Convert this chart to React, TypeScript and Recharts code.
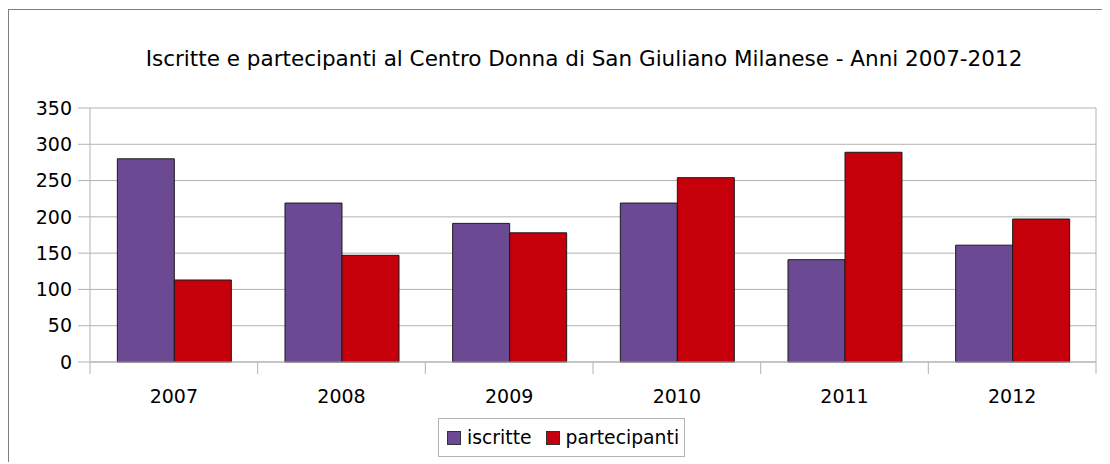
import React from 'react';
import { BarChart, Bar, XAxis, YAxis, CartesianGrid } from 'recharts';

const years = ['2007', '2008', '2009', '2010', '2011', '2012'];
const iscritte = [280, 219, 191, 219, 141, 161];
const partecipanti = [113, 147, 178, 254, 289, 197];
const yTicks = [0, 50, 100, 150, 200, 250, 300, 350];
const seriesNames = ['iscritte', 'partecipanti'];
const title = 'Iscritte e partecipanti al Centro Donna di San Giuliano Milanese - Anni 2007-2012';

const PURPLE = '#6b4a93';
const RED = '#c5000b';
const GRID = '#b3b3b3';
const FONT = '"DejaVu Sans", Verdana, sans-serif';

const data = years.map((y, i) => ({ year: y, iscritte: iscritte[i], partecipanti: partecipanti[i] }));

const CHART_W = 1102;
const CHART_H = 454;
const PLOT_LEFT = 82;
const PLOT_RIGHT = 1088;
const band = (PLOT_RIGHT - PLOT_LEFT) / years.length;

// category label in the middle, short tick on the category boundary
const XTick = (props: any) => {
  const { x, y, payload, index } = props;
  const left = x - band / 2;
  return (
    <g>
      <line x1={left} x2={left} y1={y} y2={y + 12} stroke={GRID} />
      {index === years.length - 1 && (
        <line x1={left + band} x2={left + band} y1={y} y2={y + 12} stroke={GRID} />
      )}
      <text x={x} y={y + 41} textAnchor="middle" fontSize={19} fontFamily={FONT} fill="#000">
        {payload.value}
      </text>
    </g>
  );
};

export default function App() {
  const colors = [PURPLE, RED];
  return (
    <div style={{ position: 'relative', width: CHART_W, height: CHART_H, fontFamily: FONT }}>
      <div
        style={{
          position: 'absolute',
          left: 0,
          top: 1,
          width: 1200,
          height: 600,
          borderTop: '1px solid #808080',
          borderLeft: '1px solid #808080',
          pointerEvents: 'none',
        }}
      />
      <div
        style={{
          position: 'absolute',
          left: 21,
          top: 38,
          width: 1110,
          textAlign: 'center',
          fontSize: 21.5,
          lineHeight: '26px',
          whiteSpace: 'nowrap',
          color: '#000',
        }}
      >
        {title}
      </div>
      <div style={{ position: 'absolute', left: 0, top: 0 }}>
        <BarChart
          width={CHART_W}
          height={CHART_H}
          data={data}
          margin={{ top: 100, right: 0, left: 0, bottom: 40 }}
          barCategoryGap="16.3%"
          barGap={0}
        >
          <CartesianGrid horizontal vertical={false} stroke={GRID} />
          <XAxis
            dataKey="year"
            height={60}
            axisLine={{ stroke: GRID }}
            tickLine={false}
            tickSize={0}
            tickMargin={0}
            tick={<XTick />}
            interval={0}
          />
          <YAxis
            width={PLOT_LEFT}
            domain={[0, 350]}
            ticks={yTicks}
            axisLine={{ stroke: GRID }}
            tickLine={{ stroke: GRID }}
            tickSize={12}
            tickMargin={6}
            tick={{ fontSize: 19, fill: '#000', fontFamily: FONT }}
            interval={0}
          />
          <YAxis
            yAxisId="r"
            orientation="right"
            width={CHART_W - PLOT_RIGHT}
            domain={[0, 350]}
            axisLine={{ stroke: GRID }}
            tick={false}
            tickLine={false}
          />
          <Bar dataKey="iscritte" fill={PURPLE} stroke="#1a1a1a" strokeWidth={1} isAnimationActive={false} />
          <Bar dataKey="partecipanti" fill={RED} stroke="#1a1a1a" strokeWidth={1} isAnimationActive={false} />
        </BarChart>
      </div>
      <div
        style={{
          position: 'absolute',
          left: 430,
          top: 410,
          width: 245,
          height: 37,
          border: `1px solid ${GRID}`,
          display: 'flex',
          alignItems: 'center',
          fontSize: 18.8,
          color: '#000',
        }}
      >
        {seriesNames.map((n, i) => (
          <div key={n} style={{ display: 'flex', alignItems: 'center', marginLeft: i === 0 ? 8 : 14 }}>
            <span
              style={{
                display: 'inline-block',
                width: 12,
                height: 12,
                background: colors[i],
                border: '1px solid #333',
                marginRight: 6,
              }}
            />
            <span>{n}</span>
          </div>
        ))}
      </div>
    </div>
  );
}
